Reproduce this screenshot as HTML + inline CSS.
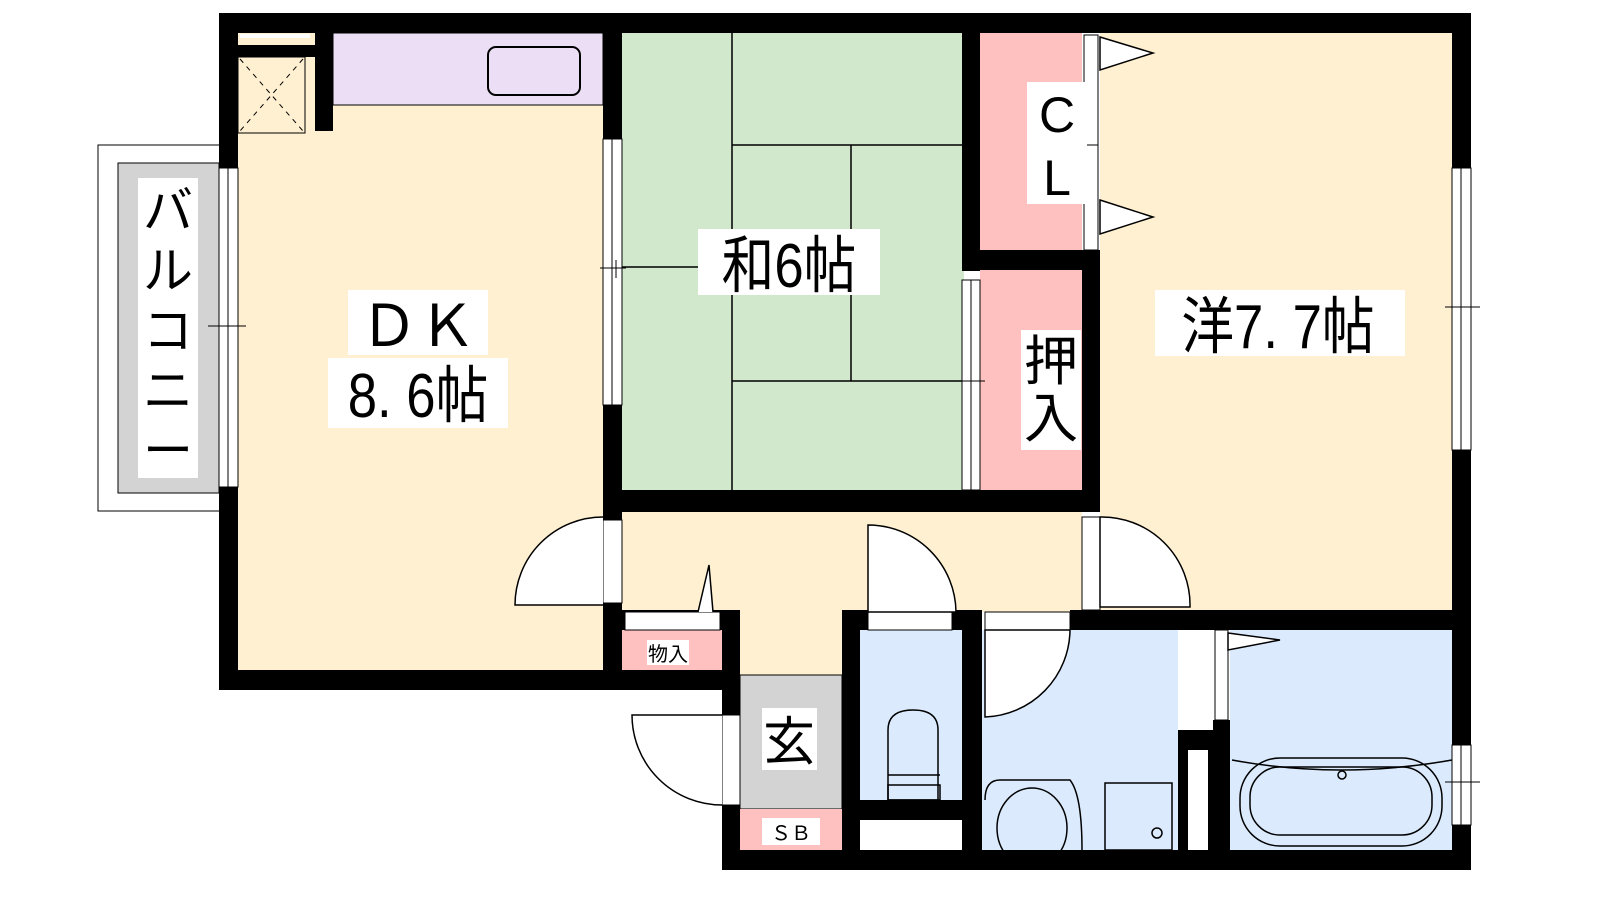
<!DOCTYPE html>
<html><head><meta charset="utf-8"><style>
html,body{margin:0;padding:0;background:#fff;width:1600px;height:900px;overflow:hidden}
svg text{font-family:"Liberation Sans","Noto Sans CJK JP",sans-serif;fill:#000}
</style></head><body>
<svg width="1600" height="900" viewBox="0 0 1600 900" xmlns="http://www.w3.org/2000/svg">
<!-- balcony -->
<rect x="98" y="145" width="122" height="366" fill="#fff" stroke="#000" stroke-width="1"/>
<rect x="118" y="163" width="101" height="330" fill="#d3d3d3" stroke="#000" stroke-width="1"/>
<rect x="138" y="178" width="60" height="300" fill="#fff"/>
<!-- floors -->
<rect x="238" y="33" width="370" height="640" fill="#fef0d0"/>
<rect x="333" y="33" width="270" height="72" fill="#ecdff5" stroke="#000" stroke-width="1"/>
<rect x="238" y="57" width="67" height="76" fill="#fef0d0" stroke="#000" stroke-width="1"/>
<line x1="240" y1="59" x2="303" y2="131" stroke="#000" stroke-dasharray="5,5"/>
<line x1="303" y1="59" x2="240" y2="131" stroke="#000" stroke-dasharray="5,5"/>
<rect x="488" y="47" width="92" height="48" rx="8" fill="none" stroke="#000" stroke-width="2"/>
<rect x="622" y="33" width="342" height="458" fill="#d1e8cd"/>
<g stroke="#000" stroke-width="1.5">
<line x1="732" y1="33" x2="732" y2="491"/><line x1="732" y1="145" x2="962" y2="145"/>
<line x1="851" y1="145" x2="851" y2="381"/><line x1="732" y1="381" x2="962" y2="381"/>
<line x1="622" y1="267" x2="732" y2="267"/></g>
<rect x="980" y="33" width="102" height="218" fill="#ffc0c0"/>
<rect x="980" y="270" width="102" height="221" fill="#ffc0c0"/>
<rect x="1100" y="33" width="352" height="580" fill="#fef0d0"/>
<rect x="622" y="512" width="460" height="100" fill="#fef0d0"/>
<rect x="740" y="600" width="102" height="80" fill="#fef0d0"/>
<rect x="622" y="630" width="100" height="42" fill="#ffc0c0"/>
<rect x="740" y="675" width="102" height="134" fill="#d3d3d3" stroke="#000" stroke-width="1"/>
<rect x="740" y="809" width="102" height="42" fill="#ffc0c0"/>
<rect x="860" y="630" width="102" height="170" fill="#dbebfd"/>
<rect x="982" y="630" width="196" height="222" fill="#dbebfd"/>
<rect x="1230" y="630" width="222" height="222" fill="#dbebfd"/>
<!-- walls -->
<g fill="#000">
<rect x="219" y="13" width="1252" height="20"/>
<rect x="219" y="13" width="19" height="155"/>
<rect x="219" y="487" width="19" height="203"/>
<rect x="219" y="670" width="521" height="20"/>
<rect x="238" y="45" width="92" height="12"/>
<rect x="315" y="33" width="18" height="98"/>
<rect x="603" y="33" width="19" height="106"/>
<rect x="603" y="405" width="19" height="115"/>
<rect x="603" y="603" width="19" height="87"/>
<rect x="603" y="490" width="497" height="22"/>
<rect x="962" y="33" width="18" height="238"/>
<rect x="962" y="250" width="138" height="20"/>
<rect x="1082" y="250" width="18" height="262"/>
<rect x="1452" y="13" width="19" height="155"/>
<rect x="1452" y="450" width="19" height="295"/>
<rect x="1452" y="825" width="19" height="45"/>
<rect x="1070" y="610" width="401" height="20"/>
<rect x="722" y="610" width="18" height="105"/>
<rect x="722" y="805" width="18" height="65"/>
<rect x="603" y="610" width="137" height="20"/>
<rect x="842" y="610" width="18" height="260"/>
<rect x="860" y="610" width="12" height="20"/>
<rect x="952" y="610" width="30" height="20"/>
<rect x="962" y="610" width="20" height="260"/>
<rect x="860" y="800" width="102" height="20"/>
<rect x="722" y="850" width="749" height="20"/>
<rect x="1178" y="730" width="52" height="140"/>
<rect x="1213" y="720" width="17" height="20"/>
</g>
<rect x="1188" y="750" width="20" height="100" fill="#fff"/>
<rect x="860" y="820" width="102" height="30" fill="#fff"/>
<rect x="240" y="34" width="70" height="4" fill="#fff"/>
<!-- windows -->
<g fill="#fff" stroke="#000" stroke-width="1">
<rect x="219" y="168" width="19" height="319"/><line x1="228" y1="168" x2="228" y2="487"/>
<rect x="1452" y="168" width="19" height="282"/><line x1="1461" y1="168" x2="1461" y2="450"/>
<rect x="1452" y="745" width="19" height="80"/><line x1="1461" y1="745" x2="1461" y2="825"/>
<rect x="603" y="139" width="19" height="266"/><line x1="612" y1="139" x2="612" y2="405"/>
<rect x="962" y="280" width="18" height="210"/><line x1="971" y1="280" x2="971" y2="490"/>
<rect x="1084" y="35" width="14" height="215"/><line x1="1084" y1="145" x2="1098" y2="145"/>
<rect x="603" y="520" width="19" height="83"/>
<rect x="1082" y="517" width="18" height="93"/>
<rect x="625" y="612" width="95" height="18"/>
<rect x="868" y="612" width="84" height="18"/>
<rect x="985" y="612" width="85" height="18"/>
<rect x="722" y="715" width="18" height="90"/>
<rect x="1215" y="630" width="13" height="90"/>
</g>
<g stroke="#000" stroke-width="1" fill="none">
<line x1="208" y1="326" x2="246" y2="326"/><line x1="600" y1="268" x2="626" y2="268"/><line x1="616" y1="260" x2="616" y2="278"/>
<line x1="960" y1="381" x2="985" y2="381"/><line x1="1445" y1="307" x2="1480" y2="307"/><line x1="1445" y1="782" x2="1480" y2="782"/>
</g>
<!-- doors -->
<g fill="#fff" stroke="#000" stroke-width="1.5">
<path d="M603 517 A88 88 0 0 0 515 605 L603 605"/>
<path d="M868 525 A88 88 0 0 1 956 612 L868 612Z"/>
<path d="M1100 517 A88 88 0 0 1 1190 607 L1100 607Z"/>
<path d="M985 630 L1070 630 A88 88 0 0 1 985 717Z"/>
<path d="M722 715 L632 715 A90 90 0 0 0 722 805"/>
<path d="M1100 37 L1153 53 L1100 70Z"/>
<path d="M1100 200 L1153 217 L1100 234Z"/>
<path d="M1228 633 L1280 640 L1228 650Z"/>
<path d="M698 612 L709 565 L713 612"/>
</g>
<!-- fixtures -->
<g fill="none" stroke="#000" stroke-width="1.5">
<path d="M888 800 L888 730 Q888 710 913 710 Q938 710 938 730 L938 800Z" fill="#dbebfd"/>
<rect x="888" y="785" width="52" height="15"/><line x1="888" y1="775" x2="940" y2="775"/>
<path d="M985 800 Q985 780 1000 780 L1070 780 Q1082 795 1082 850" fill="#dbebfd"/>
<ellipse cx="1032" cy="828" rx="35" ry="40"/>
<rect x="1105" y="783" width="67" height="67"/><circle cx="1157" cy="833" r="5"/>
<path d="M1232 760 Q1340 780 1452 760"/>
<rect x="1240" y="758" width="202" height="88" rx="40"/>
<rect x="1250" y="767" width="182" height="68" rx="30"/>
<circle cx="1342" cy="775" r="4"/>
</g>
<!-- labels -->
<rect x="348" y="290" width="140" height="65" fill="#fff"/>
<text x="418" y="346" font-size="58" text-anchor="middle">ＤＫ</text>
<rect x="328" y="358" width="180" height="70" fill="#fff"/>
<text x="418" y="417" font-size="62" text-anchor="middle" transform="translate(418 0) scale(0.85 1) translate(-418 0)">8. 6帖</text>
<rect x="698" y="229" width="182" height="66" fill="#fff"/>
<text x="789" y="287" font-size="62" text-anchor="middle" transform="translate(789 0) scale(0.85 1) translate(-789 0)">和6帖</text>
<rect x="1155" y="290" width="250" height="66" fill="#fff"/>
<text x="1278" y="348" font-size="62" text-anchor="middle" transform="translate(1278 0) scale(0.85 1) translate(-1278 0)">洋7. 7帖</text>
<rect x="1027" y="82" width="60" height="122" fill="#fff"/>
<text x="1057" y="132" font-size="50" text-anchor="middle">C</text>
<text x="1057" y="195" font-size="50" text-anchor="middle">L</text>
<rect x="1021" y="330" width="60" height="120" fill="#fff"/>
<text x="1051" y="380" font-size="54" text-anchor="middle">押</text>
<text x="1051" y="437" font-size="54" text-anchor="middle">入</text>
<rect x="762" y="708" width="55" height="62" fill="#fff"/>
<text x="789" y="760" font-size="52" text-anchor="middle">玄</text>
<rect x="647" y="640" width="42" height="25" fill="#fff"/>
<text x="668" y="661" font-size="20" text-anchor="middle">物入</text>
<rect x="647" y="640" width="0" height="0"/>
<rect x="648" y="640" width="0" height="0"/>
<rect x="647" y="640" width="0" height="0"/>
<rect x="648" y="640" width="0" height="0"/>
<rect x="648" y="640" width="0" height="0"/>
<rect x="647" y="640" width="0" height="0"/>
<rect x="647" y="640" width="0" height="0"/>
<rect x="762" y="818" width="58" height="27" fill="#fff"/>
<text x="791" y="840" font-size="20" text-anchor="middle">ＳＢ</text>
<g font-size="50" text-anchor="middle">
<text x="168" y="228">バ</text><text x="168" y="288">ル</text><text x="168" y="348">コ</text><text x="168" y="408">ニ</text><text x="168" y="468">ー</text>
</g>
</svg>
</body></html>
